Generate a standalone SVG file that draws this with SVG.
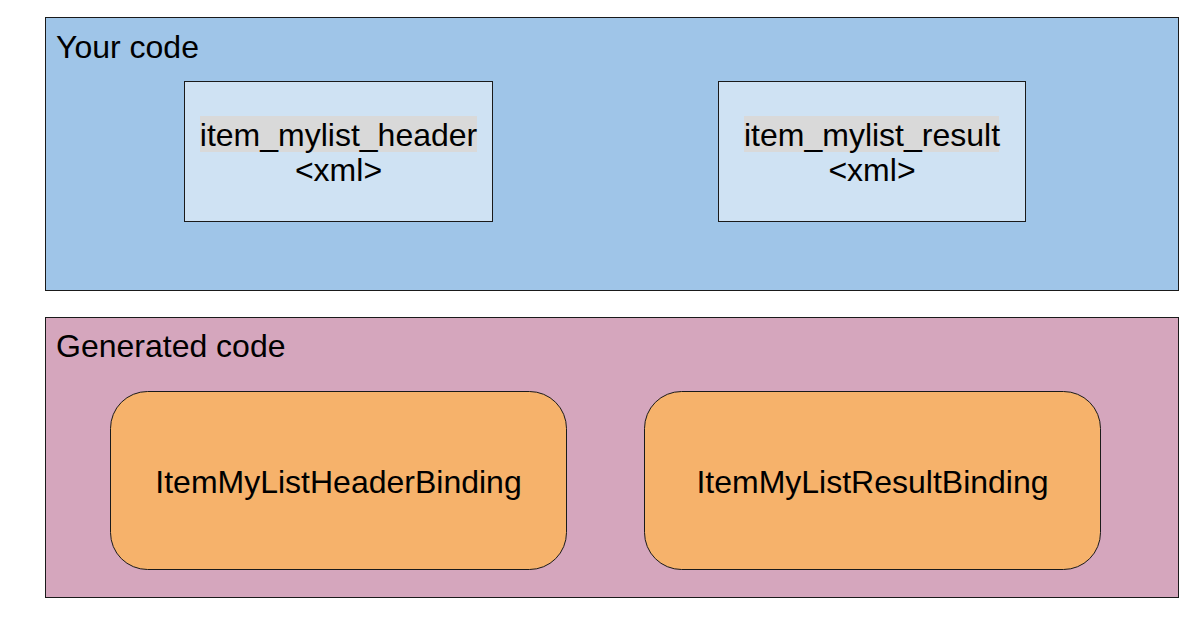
<svg xmlns="http://www.w3.org/2000/svg" width="1197" height="622" viewBox="0 0 1197 622">
<style>
text{font-family:"Liberation Sans",Arial,sans-serif;font-size:32px;fill:#000}
.c{text-anchor:middle}
.grp{stroke:#1a1a1a;stroke-width:1}
.xml{fill:#cfe2f3;stroke:#1a1a1a;stroke-width:1}
.bind{fill:#f6b26b;stroke:#1a1a1a;stroke-width:1}
.hl{fill:#d9d9d9}
</style>
<rect width="1197" height="622" fill="#ffffff"/>
<g id="your-code">
<rect class="grp" x="45.5" y="17.5" width="1133" height="273" fill="#9fc5e8"/>
<text x="56" y="58">Your code</text>
</g>
<g id="generated-code">
<rect class="grp" x="45.5" y="317.5" width="1133" height="280" fill="#d5a6bd"/>
<text x="56" y="357">Generated code</text>
</g>
<g id="item-mylist-header">
<rect class="xml" x="184.5" y="81.5" width="308" height="140"/>
<rect class="hl" x="200" y="116" width="277" height="36"/>
<text class="c" x="338.5" y="146">item_mylist_header</text>
<text class="c" x="338.5" y="181">&lt;xml&gt;</text>
</g>
<g id="item-mylist-result">
<rect class="xml" x="718.5" y="81.5" width="307" height="140"/>
<rect class="hl" x="744" y="116" width="255" height="36"/>
<text class="c" x="872" y="146">item_mylist_result</text>
<text class="c" x="872" y="181">&lt;xml&gt;</text>
</g>
<g id="header-binding">
<rect class="bind" x="110.5" y="391.5" width="456" height="178" rx="37" ry="37"/>
<text class="c" x="338.5" y="493">ItemMyListHeaderBinding</text>
</g>
<g id="result-binding">
<rect class="bind" x="644.5" y="391.5" width="456" height="178" rx="37" ry="37"/>
<text class="c" x="872.5" y="493">ItemMyListResultBinding</text>
</g>
<g id="connectors"></g>
</svg>
